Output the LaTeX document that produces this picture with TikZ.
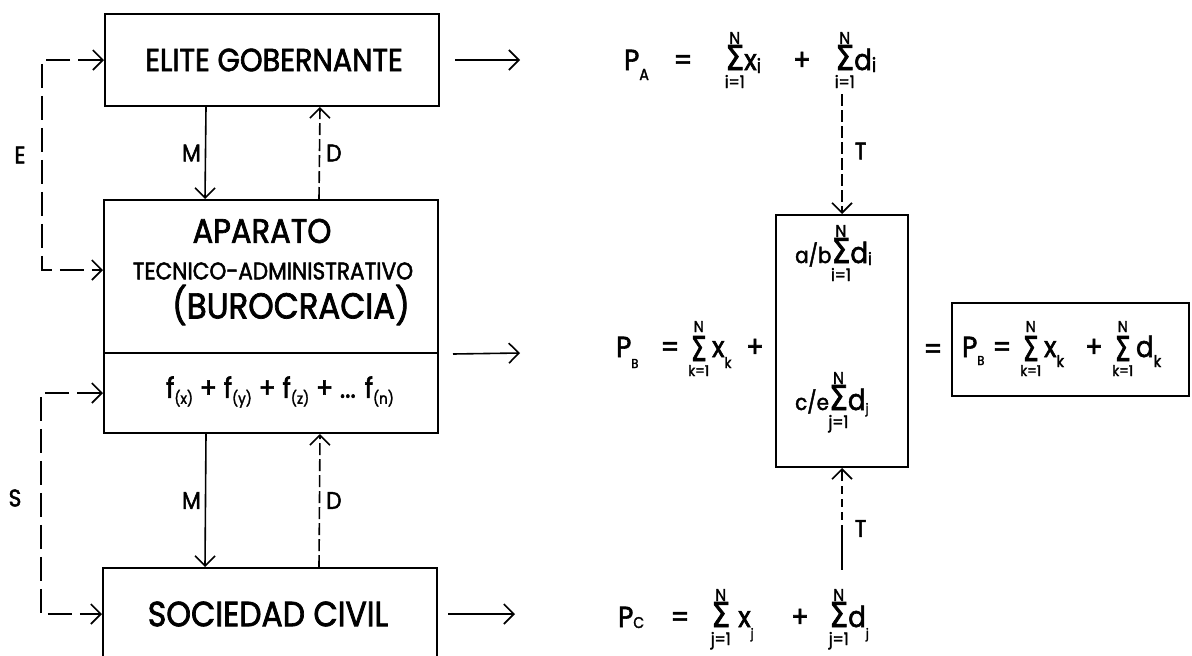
\documentclass[tikz,border=0pt]{standalone}
\usepackage{fontspec}
\setmainfont[FakeStretch=0.9,FakeBold=2]{Poppins}
\newfontfamily\symfont[FakeBold=2]{DejaVu Sans}
\usetikzlibrary{arrows.meta}
% subscript: lowering, height, text
\newcommand\sub[3]{\raisebox{-#1pt}{\resizebox{!}{#2pt}{#3}}}
% standard summation: lower limit, upper limit
\newcommand\SUM[2]{\mbox{\makebox[19pt]{\resizebox{19pt}{25pt}{\symfont Σ}}\llap{\makebox[19pt]{\raisebox{26pt}{\resizebox{!}{12pt}{#2}}}}\llap{\makebox[19pt]{\raisebox{-18pt}{\resizebox{!}{13pt}{#1}}}}}}
% summation used in P_B
\newcommand\SUMB[2]{\mbox{\makebox[17pt]{\raisebox{-4pt}{\resizebox{16pt}{25pt}{\symfont Σ}}}\llap{\makebox[17pt]{\raisebox{25pt}{\resizebox{!}{11pt}{#2}}}}\llap{\makebox[17pt]{\raisebox{-19pt}{\resizebox{!}{11pt}{#1}}}}}}
\newcommand\fbig{\fontsize{32}{36}\selectfont}
\newcommand\fmid{\fontsize{24}{28}\selectfont}
\newcommand\flab{\fontsize{24}{26}\selectfont}
\newcommand\frm{\fontsize{29}{32}\selectfont}
\begin{document}
\begin{tikzpicture}[x=1pt,y=-1pt,
  box/.style={draw, line width=2pt, inner sep=0pt},
  arr/.style={-{Straight Barb[length=10pt,width=20pt,line width=1.6pt]}, line width=1.6pt},
  darr/.style={{Straight Barb[length=10pt,width=20pt,line width=1.6pt]}-{Straight Barb[length=10pt,width=20pt,line width=1.6pt]}, line width=1.6pt, dash pattern=on 24pt off 8pt},
  dsh/.style={dash pattern=on 12pt off 4pt},
  txt/.style={inner sep=0pt}]
\useasboundingbox (0,0) rectangle (1192,656);
% boxes
\node[box, minimum width=334pt, minimum height=92pt] (elite) at (272,60) {};
\node[txt] (eliteT) at (274,60) {\fbig ELITE GOBERNANTE};
\node[box, minimum width=334pt, minimum height=153pt] (apA) at (271,276.5) {};
\node[txt] (apT1) at (262,231) {\fontsize{34}{36}\selectfont APARATO};
\node[txt] (apT2) at (273,271) {\fmid TECNICO-ADMINISTRATIVO};
\node[txt] (apT3) at (291,305) {\fontsize{36}{38}\selectfont (BUROCRACIA)};
\node[box, minimum width=334pt, minimum height=80pt] (apB) at (271,393) {};
\node[txt] (apT4) at (280,392) {\fontsize{28}{30}\selectfont f\sub{6}{14}{(x)} + f\sub{6}{14}{(y)} + f\sub{6}{14}{(z)} + ... f\sub{6}{14}{(n)}};
\node[box, minimum width=334pt, minimum height=92pt] (soc) at (270,614) {};
\node[txt] (socT) at (268,614) {\fontsize{35}{36}\selectfont SOCIEDAD CIVIL};
% vertical arrows
\draw[arr] ([xshift=-66pt]elite.south) -- ([xshift=-66pt]apA.north) node[midway, left=4pt, txt] (m1) {\flab M};
\draw[arr, dsh] ([xshift=48pt]apA.north) -- ([xshift=48pt]elite.south) node[midway, right=6pt, txt] (d1) {\flab D};
\draw[arr] ([xshift=-65pt]apB.south) -- ([xshift=-65pt]soc.north) node[midway, left=4pt, txt] (m2) {\flab M};
\draw[arr, dsh] ([xshift=49pt]soc.north) -- ([xshift=49pt]apB.south) node[midway, right=6pt, txt] (d2) {\flab D};
% side dashed connectors
\draw[darr] (elite.west) -- ++(-62,0) |- ([yshift=6.5pt]apA.west);
\node[txt] (E) at (20,155) {\flab E};
\draw[darr] (apB.west) -- ++(-62,0) |- (soc.west);
\node[txt] (S) at (15,498) {\flab S};
% right arrows
\coordinate (eA) at (520,60);
\coordinate (eB) at (520,353);
\coordinate (eC) at (515,614);
\draw[arr] ([xshift=15pt]elite.east) -- (eA);
\draw[arr] ([xshift=14pt]apA.south east) -- (eB);
\draw[arr] ([xshift=10pt]soc.east) -- (eC);
% formula A
\node[txt, anchor=base west] (pA) at (624,70) {\frm P\sub{10}{11}{A}};
\node[txt, anchor=base] (eqA) at (683,70) {\frm =};
\node[txt, anchor=base west] (sA1) at (725,70) {\frm \SUM{i=1}{N}x\sub{3}{15}{i}};
\node[txt, anchor=base] (plA) at (802,70) {\frm +};
\node[txt, anchor=base west] (sA2) at (835,70) {\frm \SUM{i=1}{N}d\sub{2}{15}{i}};
% formula B
\node[txt, anchor=base west] (pB) at (616,357) {\frm P\sub{11}{9}{B}};
\node[txt, anchor=base] (eqB) at (670,357) {\frm =};
\node[txt, anchor=base west] (sB1) at (690,357) {\frm \SUMB{k=1}{N}\,x\sub{11}{11}{k}};
\node[txt, anchor=base] (plB) at (755,357) {\frm +};
\node[box, minimum width=132pt, minimum height=252pt] (mid) at (842,341) {};
\node[txt, anchor=base west] (ab) at (795,263) {{\fontsize{22}{24}\selectfont a/b}\SUM{i=1}{N}{\frm d}\sub{2}{13}{i}};
\node[txt, anchor=base west] (ce) at (795,410) {{\fontsize{22}{24}\selectfont c/e}\SUM{j=1}{N}{\frm d}\sub{3}{10}{j}};
\node[txt, anchor=base] (eqR) at (933,359) {\frm =};
\node[box, minimum width=237pt, minimum height=93pt] (res) at (1070.5,349.5) {};
\node[txt, anchor=base west] (rP) at (962,357) {\frm P\sub{8}{9}{B}};
\node[txt, anchor=base] (rEq) at (1002,357) {\frm =};
\node[txt, anchor=base west] (rS1) at (1022,357) {\frm \SUMB{k=1}{N}\,x\sub{10}{12}{k}};
\node[txt, anchor=base] (rPl) at (1094,357) {\frm +};
\node[txt, anchor=base west] (rS2) at (1114,357) {\frm \SUMB{k=1}{N}\,d\sub{10}{12}{k}};
% formula C
\node[txt, anchor=base west] (pC) at (618,627) {\frm P\sub{1}{11}{C}};
\node[txt, anchor=base] (eqC) at (680,627) {\frm =};
\node[txt, anchor=base west] (sC1) at (711,627) {\frm \SUM{j=1}{N}\hspace{8pt}x\sub{11}{10}{j}};
\node[txt, anchor=base] (plC) at (800,627) {\frm +};
\node[txt, anchor=base west] (sC2) at (829,627) {\frm \SUM{j=1}{N}d\sub{11}{10}{j}};
% T connectors
\draw[arr, dsh, shorten <=6pt] (mid.north |- sA2.south) -- (mid.north) node[midway, right=12pt, txt] (tA) {\flab T};
\draw[arr, shorten <=19pt, dash pattern=on 45pt off 5pt on 8pt off 5pt on 8pt off 5pt on 8pt off 5pt on 30pt] (mid.south |- sC2.north) -- (mid.south) node[midway, right=12pt, txt] (tC) {\flab T};
\end{tikzpicture}
\end{document}
